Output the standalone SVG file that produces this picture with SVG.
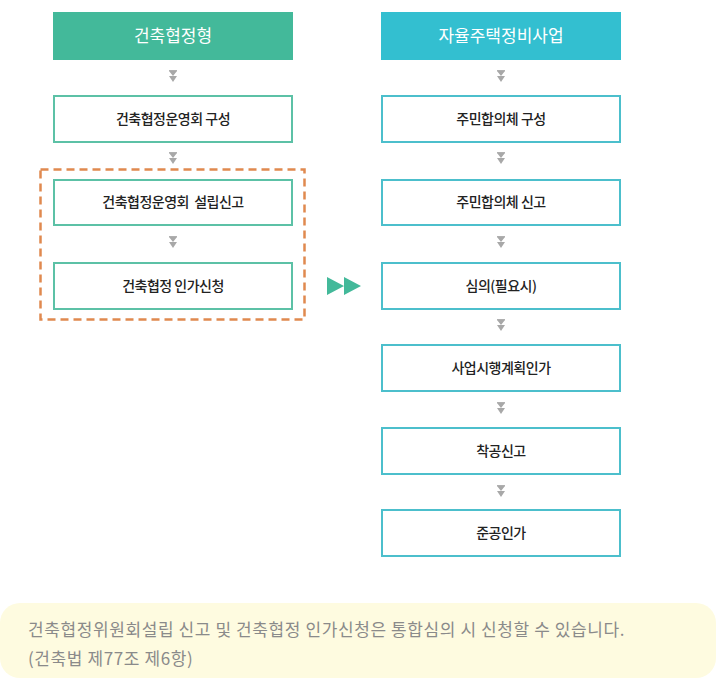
<svg xmlns="http://www.w3.org/2000/svg" width="723" height="697" viewBox="0 0 723 697">
<defs>
<style>
.hdr{font-family:"Noto Sans CJK KR","Noto Sans",sans-serif;font-size:17px;fill:#ffffff;text-anchor:middle;}
.box{fill:#ffffff;stroke-width:2;}
.lb{stroke:#5cc1a6;}
.rb{stroke:#4cbfcc;}
.lbl{font-family:"Noto Sans CJK KR","Noto Sans",sans-serif;font-size:14px;font-weight:500;fill:#222222;text-anchor:middle;letter-spacing:-0.5px;white-space:pre;}
.note{font-family:"Noto Sans CJK KR","Noto Sans",sans-serif;font-size:17px;fill:#8a8a8a;letter-spacing:0.6px;}
</style>
<g id="dchev">
<rect x="-4" y="0" width="8" height="1.2" fill="#b0b0b0"/>
<path d="M-4,1 L4,1 L0,6 Z M-4,6 L4,6 L0,12 Z" fill="#a8a8a8"/>
</g>
</defs>
<rect width="723" height="697" fill="#ffffff"/>

<g id="connectors">
<use href="#dchev" x="173" y="70"/>
<use href="#dchev" x="173" y="152"/>
<use href="#dchev" x="173" y="236"/>
<use href="#dchev" x="501" y="70"/>
<use href="#dchev" x="501" y="152"/>
<use href="#dchev" x="501" y="236"/>
<use href="#dchev" x="501" y="319"/>
<use href="#dchev" x="501" y="402"/>
<use href="#dchev" x="501" y="485"/>
<path d="M327,277 L344,286 L327,295 Z M344,277 L361,286 L344,295 Z" fill="#43b99a"/>
</g>

<g id="group-dashed">
<rect x="40.5" y="169.5" width="264" height="150" fill="none" stroke="#e0894f" stroke-width="2.5" stroke-dasharray="8,5"/>
</g>

<g id="hdr-left">
<rect x="53" y="12" width="240" height="48" fill="#43b99a"/>
<text class="hdr" x="173" y="42">건축협정형</text>
</g>
<g id="hdr-right">
<rect x="381" y="12" width="240" height="48" fill="#33bfd0"/>
<text class="hdr" x="501" y="42">자율주택정비사업</text>
</g>

<g id="l1"><rect class="box lb" x="54" y="96" width="238" height="46"/><text class="lbl" x="173" y="124">건축협정운영회 구성</text></g>
<g id="l2"><rect class="box lb" x="54" y="180" width="238" height="45"/><text class="lbl" x="173" y="207" xml:space="preserve">건축협정운영회  설립신고</text></g>
<g id="l3"><rect class="box lb" x="54" y="263" width="238" height="46"/><text class="lbl" x="173" y="291">건축협정 인가신청</text></g>

<g id="r1"><rect class="box rb" x="382" y="96" width="238" height="46"/><text class="lbl" x="501" y="124">주민합의체 구성</text></g>
<g id="r2"><rect class="box rb" x="382" y="180" width="238" height="45"/><text class="lbl" x="501" y="207">주민합의체 신고</text></g>
<g id="r3"><rect class="box rb" x="382" y="263" width="238" height="46"/><text class="lbl" x="501" y="291">심의(필요시)</text></g>
<g id="r4"><rect class="box rb" x="382" y="345" width="238" height="46"/><text class="lbl" x="501" y="373">사업시행계획인가</text></g>
<g id="r5"><rect class="box rb" x="382" y="428" width="238" height="46"/><text class="lbl" x="501" y="456">착공신고</text></g>
<g id="r6"><rect class="box rb" x="382" y="510" width="238" height="46"/><text class="lbl" x="501" y="538">준공인가</text></g>

<g id="note">
<rect x="0" y="603" width="716" height="75" rx="20" fill="#fefbe0"/>
<text class="note" x="28" y="636">건축협정위원회설립 신고 및 건축협정 인가신청은 통합심의 시 신청할 수 있습니다.</text>
<text class="note" x="28" y="665">(건축법 제77조 제6항)</text>
</g>
</svg>
